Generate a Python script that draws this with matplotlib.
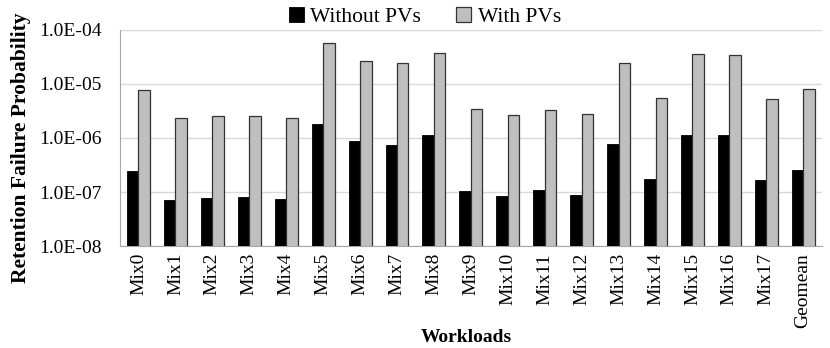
import matplotlib
matplotlib.use("Agg")
import matplotlib.pyplot as plt
import numpy as np
from matplotlib.ticker import FixedLocator, FuncFormatter

workloads = ["Mix0", "Mix1", "Mix2", "Mix3", "Mix4", "Mix5", "Mix6", "Mix7", "Mix8",
             "Mix9", "Mix10", "Mix11", "Mix12", "Mix13", "Mix14", "Mix15", "Mix16",
             "Mix17", "Geomean"]
without_pvs = [2.5e-7, 7.2e-8, 7.7e-8, 8.1e-8, 7.4e-8, 1.82e-6, 8.7e-7, 7.5e-7, 1.15e-6,
               1.04e-7, 8.5e-8, 1.07e-7, 8.7e-8, 7.7e-7, 1.72e-7, 1.14e-6, 1.12e-6,
               1.69e-7, 2.6e-7]
with_pvs = [7.7e-6, 2.3e-6, 2.5e-6, 2.55e-6, 2.35e-6, 5.7e-5, 2.7e-5, 2.42e-5, 3.75e-5,
            3.44e-6, 2.67e-6, 3.35e-6, 2.82e-6, 2.48e-5, 5.43e-6, 3.6e-5, 3.44e-5,
            5.35e-6, 8.2e-6]

plt.rcParams['font.family'] = ['Liberation Serif', 'DejaVu Serif']

fig = plt.figure(figsize=(8.3, 3.48), dpi=100)
ax = fig.add_axes([0.1446, 0.293, 0.8454, 0.621])

x = np.arange(len(workloads))
w = 0.31
ax.bar(x - w / 2, without_pvs, w, color="black", edgecolor="black", linewidth=0.6,
       label="Without PVs", zorder=3)
ax.bar(x + w / 2, with_pvs, w, color="#bfbfbf", edgecolor="#333333", linewidth=0.9,
       label="With PVs", zorder=3)

ax.set_yscale("log")
ax.set_ylim(1e-8, 1e-4)
ax.set_xlim(-0.5, len(workloads) - 0.5)
ax.yaxis.set_major_locator(FixedLocator([1e-8, 1e-7, 1e-6, 1e-5, 1e-4]))
ax.yaxis.set_minor_locator(FixedLocator([]))
ax.yaxis.set_major_formatter(FuncFormatter(lambda v, p: "1.0E-%02d" % round(-np.log10(v))))
ax.grid(axis="y", color="#d9d9d9", linewidth=1.0, zorder=0)

ax.set_xticks(x)
ax.set_xticklabels(workloads, rotation=90)
ax.tick_params(axis="both", length=0, labelsize=14)
ax.tick_params(axis="x", pad=5)
ax.tick_params(axis="y", pad=13)

for s in ["top", "right"]:
    ax.spines[s].set_visible(False)
for s in ["left", "bottom"]:
    ax.spines[s].set_color("#a6a6a6")

fig.text(0.025, 0.575, "Retention Failure Probability", fontsize=15.5, fontweight="bold",
         rotation=90, ha="center", va="center")
fig.text(0.5615, 0.029, "Workloads", fontsize=14, fontweight="bold", ha="center", va="center")

ax.legend(loc="center", bbox_to_anchor=(0.4345, 1.06), ncol=2, frameon=False, fontsize=15.5,
          handlelength=0.7, handleheight=0.7, handletextpad=0.3, columnspacing=1.63)

fig.savefig("out.png", dpi=100)
